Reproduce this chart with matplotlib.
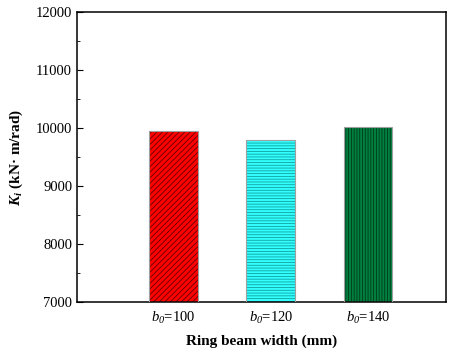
import matplotlib
matplotlib.use("Agg")
import matplotlib.pyplot as plt
from matplotlib.ticker import MultipleLocator

categories = ["$b_{\\mathsf{0}}$=100", "$b_{\\mathsf{0}}$=120", "$b_{\\mathsf{0}}$=140"]
values = [9940, 9800, 10010]
colors = ["#ff0000", "#33ffff", "#008040"]
hatch_colors = ["#600000", "#10a0a0", "#003a18"]
hatches = ["//////", "------", "||||||"]

plt.rcParams["font.family"] = ["Liberation Serif", "DejaVu Serif"]
plt.rcParams["mathtext.fontset"] = "custom"
plt.rcParams["mathtext.rm"] = "Liberation Serif"
plt.rcParams["mathtext.it"] = "Liberation Serif:italic"
plt.rcParams["mathtext.sf"] = "Liberation Serif:italic"
plt.rcParams["mathtext.bf"] = "Liberation Serif:bold:italic"
plt.rcParams["hatch.linewidth"] = 0.6

fig = plt.figure(figsize=(4.66, 3.52), dpi=100)
ax = fig.add_axes([77/466, 1-302/352, (446-77)/466, (302-12)/352])

x = [1, 2, 3]
for xi, v, c, hc, h in zip(x, values, colors, hatch_colors, hatches):
    ax.bar(xi, v - 7000, bottom=7000, width=0.5, color=c, edgecolor=hc,
           hatch=h, linewidth=0, zorder=2)
    ax.bar(xi, v - 7000, bottom=7000, width=0.5, facecolor="none",
           edgecolor="#a0a0a0", linewidth=0.8, zorder=3)

ax.set_xlim(0.01, 3.8)
ax.set_ylim(7000, 12000)
ax.set_xticks(x)
ax.set_xticklabels(categories, fontsize=10.5)
ax.tick_params(axis="x", length=0, pad=6)
ax.yaxis.set_major_locator(MultipleLocator(1000))
ax.yaxis.set_minor_locator(MultipleLocator(500))
ax.tick_params(axis="y", which="major", direction="in", length=4, labelsize=10.5, right=False)
ax.tick_params(axis="y", which="minor", direction="in", length=2, right=False)
for s in ax.spines.values():
    s.set_linewidth(1.1)

ax.set_xlabel("Ring beam width (mm)", fontsize=11, fontweight="bold", labelpad=6)
ax.set_ylabel("$\\mathbf{K_i}$ (kN· m/rad)", fontsize=11, fontweight="bold", labelpad=8)

fig.savefig("out.png", dpi=100)
